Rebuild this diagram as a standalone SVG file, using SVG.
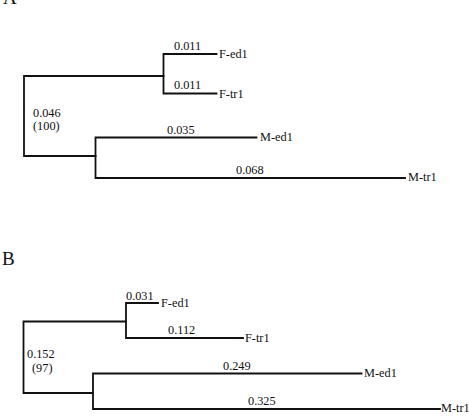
<svg xmlns="http://www.w3.org/2000/svg" width="469" height="416" viewBox="0 0 469 416">
<style>
.br{fill:none;stroke:#111;stroke-width:1.8;stroke-linecap:square}
.t{font-family:"Liberation Serif","Times New Roman",serif;font-size:12.3px;fill:#111}
.p{font-family:"Liberation Serif","Times New Roman",serif;font-size:19px;fill:#111}
</style>
<rect width="469" height="416" fill="#fff"/>
<text class="p" x="3" y="4">A</text>
<text class="p" x="2" y="265">B</text>
<g id="connectors">
<path class="br" d="M163.5,76 H24 V156 H95.5"/>
<path class="br" d="M216.5,54 H163.5 V93.5 H216.5"/>
<path class="br" d="M256.5,137.5 H95.5 V178 H405"/>
<path class="br" d="M126,321.5 H23.5 V393 H92.5"/>
<path class="br" d="M158,303 H126 V338 H243"/>
<path class="br" d="M361.5,373.5 H93 V409 H440"/>
</g>
<g id="treeA-labels">
<text class="t" x="174" y="50">0.011</text>
<text class="t" x="174" y="88.5">0.011</text>
<text class="t" x="33" y="116.5">0.046</text>
<text class="t" x="33" y="130">(100)</text>
<text class="t" x="167" y="134">0.035</text>
<text class="t" x="236" y="174">0.068</text>
</g>
<g id="A-F-ed1"><text class="t" x="219" y="58">F-ed1</text></g>
<g id="A-F-tr1"><text class="t" x="219" y="98">F-tr1</text></g>
<g id="A-M-ed1"><text class="t" x="260" y="141">M-ed1</text></g>
<g id="A-M-tr1"><text class="t" x="408" y="181">M-tr1</text></g>
<g id="treeB-labels">
<text class="t" x="126" y="300">0.031</text>
<text class="t" x="168" y="333.5">0.112</text>
<text class="t" x="27" y="358">0.152</text>
<text class="t" x="32" y="372">(97)</text>
<text class="t" x="223" y="369.5">0.249</text>
<text class="t" x="248" y="405">0.325</text>
</g>
<g id="B-F-ed1"><text class="t" x="161" y="307">F-ed1</text></g>
<g id="B-F-tr1"><text class="t" x="245" y="342">F-tr1</text></g>
<g id="B-M-ed1"><text class="t" x="364" y="377">M-ed1</text></g>
<g id="B-M-tr1"><text class="t" x="441" y="412">M-tr1</text></g>
</svg>
